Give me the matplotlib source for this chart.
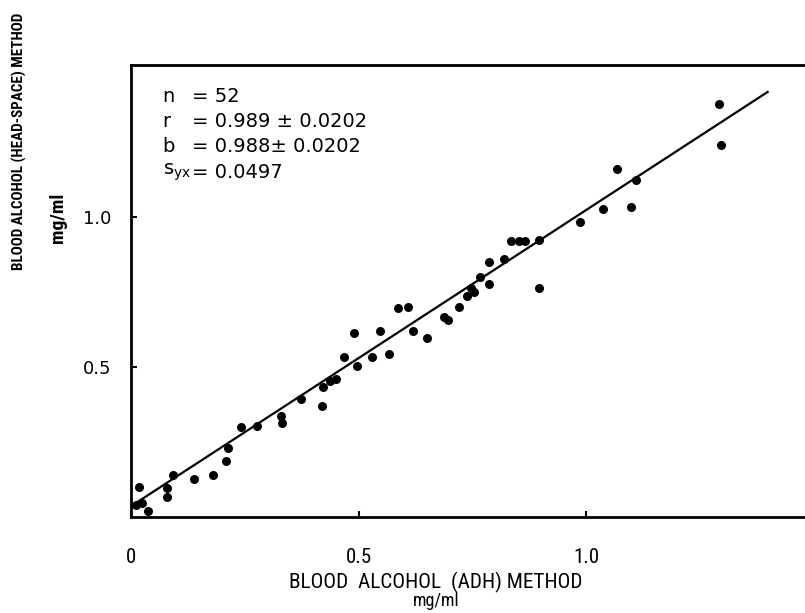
import matplotlib
matplotlib.use("Agg")
import matplotlib.pyplot as plt
from matplotlib import font_manager
import numpy as np

# Data (mg/ml)
adh = [0.018, 0.011, 0.024, 0.037, 0.079, 0.079, 0.092, 0.138, 0.180, 0.209,
       0.213, 0.242, 0.277, 0.332, 0.330, 0.374, 0.420, 0.422, 0.437, 0.451,
       0.468, 0.490, 0.497, 0.530, 0.547, 0.567, 0.587, 0.609, 0.620, 0.651,
       0.688, 0.697, 0.721, 0.738, 0.747, 0.754, 0.767, 0.787, 0.787, 0.818,
       0.835, 0.851, 0.866, 0.895, 0.897, 0.985, 1.037, 1.097, 1.068, 1.108,
       1.292, 1.295]
headspace = [0.100, 0.040, 0.047, 0.020, 0.067, 0.097, 0.140, 0.127, 0.140, 0.187,
             0.230, 0.300, 0.303, 0.313, 0.337, 0.393, 0.370, 0.433, 0.453, 0.460,
             0.533, 0.613, 0.503, 0.533, 0.620, 0.543, 0.697, 0.700, 0.620, 0.597,
             0.667, 0.657, 0.700, 0.737, 0.763, 0.750, 0.800, 0.850, 0.777, 0.860,
             0.920, 0.920, 0.920, 0.923, 0.763, 0.983, 1.027, 1.033, 1.160, 1.123,
             1.377, 1.240]

fit_intercept = 0.036
fit_slope = 0.988
fit_x = [0.008, 1.398]

x_ticks = [0, 0.5, 1.0]
x_ticklabels = ["0", "0.5", "1.0"]
y_ticks = [0.5, 1.0]
y_ticklabels = ["0.5", "1.0"]

stat_labels = ["n", "r", "b", r"$\mathregular{s_{yx}}$"]
stat_values = ["= 52", "= 0.989 \u00b1 0.0202", "= 0.988\u00b1 0.0202", "= 0.0497"]

x_title = "BLOOD  ALCOHOL  (ADH) METHOD"
y_title = "BLOOD ALCOHOL (HEAD-SPACE) METHOD"
unit = "mg/ml"

# choose a narrow font if it is installed
narrow = "DejaVu Sans"
for cand in ["Liberation Sans Narrow", "Roboto Condensed", "DejaVu Sans Condensed"]:
    try:
        font_manager.findfont(font_manager.FontProperties(family=cand),
                              fallback_to_default=False)
        narrow = cand
        break
    except Exception:
        pass
fam = [narrow, "DejaVu Sans"]

W, H = 805, 613
fig = plt.figure(figsize=(W / 100, H / 100), dpi=100)
ax = fig.add_axes([131 / W, 1 - 517 / H, (W - 131) / W, (517 - 65) / H])

ax.scatter(adh, headspace, s=42, color="black", zorder=3, linewidths=0)
fx = np.array(fit_x)
ax.plot(fx, fit_intercept + fit_slope * fx, color="black", lw=1.6, zorder=2)

ax.set_xlim(0, 1.48)
ax.set_ylim(0, 1.507)

for s in ["left", "bottom", "top"]:
    ax.spines[s].set_linewidth(2.0)
ax.spines["right"].set_visible(False)

ax.set_xticks(x_ticks)
ax.set_xticklabels(x_ticklabels, fontsize=15, family=fam)
ax.set_yticks(y_ticks)
ax.set_yticklabels(y_ticklabels, fontsize=13)
ax.tick_params(axis="both", direction="in", length=4, width=1.5)
ax.tick_params(axis="x", pad=22)
ax.tick_params(axis="y", pad=14)

rows = [0.931, 0.876, 0.819, 0.763]
for lab, val, yy in zip(stat_labels, stat_values, rows):
    ax.text(0.047, yy, lab, transform=ax.transAxes, fontsize=14, va="center",
            ha="left")
    ax.text(0.090, yy, val, transform=ax.transAxes, fontsize=14, va="center",
            ha="left")

tx = fig.text(436 / W, 1 - 582 / H, x_title, fontsize=13, family=fam,
              ha="center", va="center")
fig.text(436 / W, 1 - 601 / H, unit, fontsize=13, family=fam, ha="center", va="center")

ty = fig.text(19 / W, 1 - 141 / H, y_title, fontsize=13, family=fam,
              fontweight="bold", rotation=90, ha="center", va="center")
tu = fig.text(58 / W, 1 - 218 / H, unit, fontsize=14, family=fam, fontweight="bold",
              rotation=90, ha="center", va="center")

# fit title lengths to the reference extents
fig.canvas.draw()
r = fig.canvas.get_renderer()
wx = tx.get_window_extent(r).width
tx.set_fontsize(13 * 292 / wx)
hy = ty.get_window_extent(r).height
ty.set_fontsize(13 * 258 / hy)

fig.savefig("out.png", dpi=100)
